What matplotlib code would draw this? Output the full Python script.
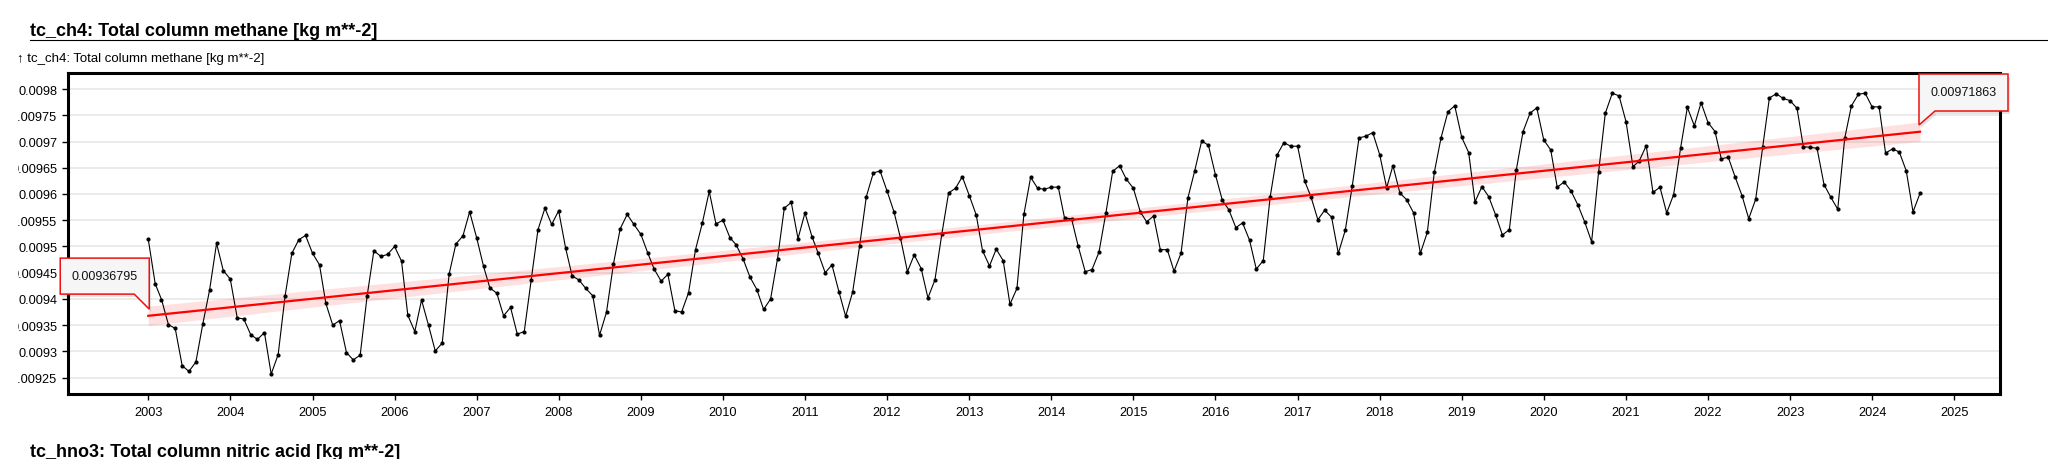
import matplotlib
matplotlib.use("Agg")
import matplotlib.pyplot as plt
import matplotlib.dates as mdates
import matplotlib.transforms as mtransforms
from matplotlib.lines import Line2D
from matplotlib.patches import Polygon
import numpy as np
import pandas as pd

plt.rcParams["font.family"] = ["Liberation Sans", "DejaVu Sans"]

# monthly total column methane [kg m**-2], Jan 2003 .. Aug 2024
ch4 = [
    0.009514, 0.009429, 0.009399, 0.009351, 0.009344, 0.009273, 0.009262, 0.009280, 0.009353, 0.009417, 0.009506, 0.009454,
    0.009438, 0.009364, 0.009362, 0.009332, 0.009323, 0.009336, 0.009257, 0.009294, 0.009406, 0.009487, 0.009513, 0.009521,
    0.009487, 0.009465, 0.009392, 0.009350, 0.009359, 0.009298, 0.009284, 0.009293, 0.009406, 0.009492, 0.009481, 0.009485,
    0.009500, 0.009472, 0.009369, 0.009338, 0.009398, 0.009350, 0.009301, 0.009316, 0.009448, 0.009505, 0.009520, 0.009566,
    0.009517, 0.009462, 0.009421, 0.009411, 0.009368, 0.009384, 0.009333, 0.009338, 0.009437, 0.009532, 0.009573, 0.009542,
    0.009568, 0.009497, 0.009444, 0.009436, 0.009420, 0.009406, 0.009331, 0.009375, 0.009467, 0.009534, 0.009561, 0.009542,
    0.009523, 0.009487, 0.009457, 0.009434, 0.009447, 0.009378, 0.009375, 0.009412, 0.009494, 0.009544, 0.009605, 0.009543,
    0.009550, 0.009517, 0.009503, 0.009476, 0.009442, 0.009418, 0.009380, 0.009400, 0.009477, 0.009573, 0.009584, 0.009515,
    0.009564, 0.009519, 0.009487, 0.009450, 0.009465, 0.009414, 0.009367, 0.009413, 0.009501, 0.009595, 0.009640, 0.009644,
    0.009606, 0.009566, 0.009516, 0.009452, 0.009484, 0.009458, 0.009402, 0.009436, 0.009524, 0.009602, 0.009611, 0.009633,
    0.009597, 0.009560, 0.009492, 0.009463, 0.009495, 0.009473, 0.009390, 0.009420, 0.009561, 0.009632, 0.009611, 0.009609,
    0.009613, 0.009613, 0.009554, 0.009553, 0.009500, 0.009452, 0.009456, 0.009489, 0.009564, 0.009643, 0.009654, 0.009628,
    0.009611, 0.009566, 0.009547, 0.009558, 0.009494, 0.009494, 0.009453, 0.009487, 0.009593, 0.009644, 0.009701, 0.009693,
    0.009637, 0.009588, 0.009570, 0.009536, 0.009545, 0.009512, 0.009457, 0.009473, 0.009595, 0.009674, 0.009698, 0.009691,
    0.009691, 0.009625, 0.009595, 0.009551, 0.009569, 0.009556, 0.009487, 0.009531, 0.009615, 0.009707, 0.009710, 0.009717,
    0.009675, 0.009612, 0.009654, 0.009602, 0.009589, 0.009564, 0.009487, 0.009527, 0.009641, 0.009707, 0.009757, 0.009768,
    0.009708, 0.009679, 0.009585, 0.009614, 0.009595, 0.009560, 0.009522, 0.009532, 0.009646, 0.009719, 0.009754, 0.009764,
    0.009703, 0.009684, 0.009613, 0.009623, 0.009606, 0.009579, 0.009547, 0.009509, 0.009642, 0.009754, 0.009792, 0.009787,
    0.009738, 0.009652, 0.009663, 0.009692, 0.009603, 0.009613, 0.009564, 0.009599, 0.009688, 0.009765, 0.009730, 0.009774,
    0.009736, 0.009719, 0.009667, 0.009670, 0.009633, 0.009597, 0.009553, 0.009590, 0.009689, 0.009783, 0.009791, 0.009782,
    0.009778, 0.009763, 0.009690, 0.009689, 0.009687, 0.009618, 0.009594, 0.009571, 0.009706, 0.009768, 0.009790, 0.009792,
    0.009766, 0.009766, 0.009678, 0.009686, 0.009680, 0.009644, 0.009566, 0.009601,
]
start_month = "2003-01-01"

# linear trend end values as labelled on the chart
trend_start = 0.00936795
trend_end = 0.00971863

y_ticks = [0.00925, 0.0093, 0.00935, 0.0094, 0.00945, 0.0095,
           0.00955, 0.0096, 0.00965, 0.0097, 0.00975, 0.0098]

title = "tc_ch4: Total column methane [kg m**-2]"
subtitle = "\u2191 tc_ch4: Total column methane [kg m**-2]"
next_title = "tc_hno3: Total column nitric acid [kg m**-2]"

W, H = 2048, 460


def callout(ax, x, y, verts, text_xy, label):
    # callout box drawn in pixel offsets from a data anchor
    px, py = ax.transData.transform((mdates.date2num(x), y))
    ident = mtransforms.IdentityTransform()
    pts = [(px + dx, py + dy) for dx, dy in verts]
    shadow = Polygon([(a + 2, b - 3) for a, b in pts], closed=True,
                     facecolor="black", edgecolor="none", alpha=0.10,
                     transform=ident, clip_on=False, zorder=9)
    box = Polygon(pts, closed=True, facecolor="#f6f6f6", edgecolor="#ee1111",
                  linewidth=1.1, transform=ident, clip_on=False, zorder=10)
    ax.add_artist(shadow)
    ax.add_artist(box)
    ax.text(px + text_xy[0], py + text_xy[1], label, transform=ident,
            ha="center", va="center", fontsize=9, color="#111111",
            zorder=11, clip_on=False)


def main():
    dates = pd.date_range(start_month, periods=len(ch4), freq="MS")
    y = np.array(ch4)

    fig = plt.figure(figsize=(W / 100, H / 100), dpi=100)
    ax = fig.add_axes([68 / W, 1 - 395 / H, (2000 - 68) / W, (395 - 74) / H])

    # trend line + confidence band
    t = mdates.date2num(dates)
    trend = trend_start + (trend_end - trend_start) * (t - t[0]) / (t[-1] - t[0])
    s = np.std(y - trend)
    sxx = np.sum((t - t.mean()) ** 2)
    hw = 1.96 * s * np.sqrt(1 / len(t) + (t - t.mean()) ** 2 / sxx)
    ax.fill_between(dates, trend - hw, trend + hw, color="#ff0000",
                    alpha=0.12, linewidth=0, zorder=2)
    ax.plot([dates[0], dates[-1]], [trend_start, trend_end],
            color="#ff0000", linewidth=1.6, zorder=4)

    ax.plot(dates, y, color="black", linewidth=0.8, marker="o",
            markersize=2.0, zorder=3)

    ax.set_xlim(pd.Timestamp("2002-01-09"), pd.Timestamp("2025-07-23"))
    ax.set_ylim(0.009219, 0.0098305)
    ax.xaxis.set_major_locator(mdates.YearLocator())
    ax.xaxis.set_major_formatter(mdates.DateFormatter("%Y"))
    ax.set_yticks(y_ticks, [f"{v:g}" for v in y_ticks])

    ax.grid(axis="y", color="#e6e6e6", linewidth=1.1, zorder=0)
    ax.set_axisbelow(True)
    for sp in ax.spines.values():
        sp.set_linewidth(2.2)
        sp.set_color("black")
    ax.tick_params(axis="both", length=4.3, width=1.0, labelsize=9.2,
                   color="black")
    ax.tick_params(axis="y", pad=3.5)
    ax.tick_params(axis="x", pad=4)

    # y labels are cut off at the left of the panel like in the dashboard:
    # clip at the left edge of the shortest label
    fig.canvas.draw()
    renderer = fig.canvas.get_renderer()
    labels = ax.get_yticklabels()
    short = min(labels, key=lambda l: len(l.get_text()))
    left = short.get_window_extent(renderer).x0 + 0.2
    clip = mtransforms.Bbox.from_extents(left, 0, W, H)
    for lbl in labels:
        lbl.set_clip_box(clip)
        lbl.set_clip_on(True)

    callout(ax, dates[0], trend_start,
            [(-88, 21.7), (-88, 57.7), (1, 57.7), (1, 6.7), (-14, 21.7)],
            (-43.5, 39.7), f"{trend_start:.8f}")
    callout(ax, dates[-1], trend_end,
            [(-0.7, 7), (-0.7, 57.7), (88.3, 57.7), (88.3, 21), (15, 21)],
            (43.8, 39.4), f"{trend_end:.8f}")

    fig.text(30 / W, 1 - 36 / H, title, fontsize=13, fontweight="bold",
             va="baseline")
    fig.add_artist(Line2D([30 / W, 1], [1 - 40.7 / H] * 2,
                          transform=fig.transFigure, color="black",
                          linewidth=0.8))
    fig.text(17 / W, 1 - 62 / H, subtitle, fontsize=9.5, va="baseline")
    fig.text(30 / W, 1 - 457 / H, next_title, fontsize=13,
             fontweight="bold", va="baseline")

    fig.savefig("out.png", dpi=100)
    plt.close(fig)


if __name__ == "__main__":
    main()
